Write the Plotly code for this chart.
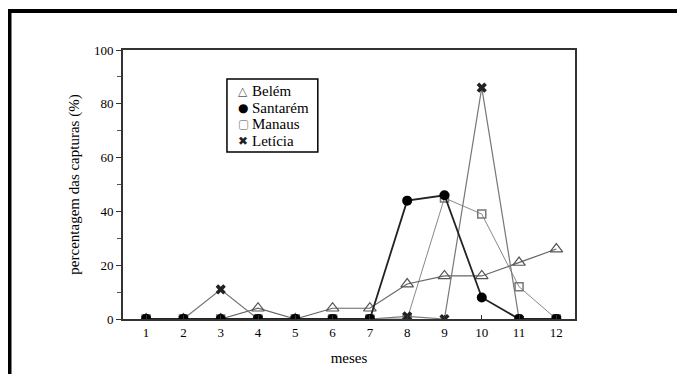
import plotly.graph_objects as go

meses = [1, 2, 3, 4, 5, 6, 7, 8, 9, 10, 11, 12]
belem = [0, 0, 0, 4, 0, 4, 4, 13, 16, 16, 21, 26]
santarem = [0, 0, 0, 0, 0, 0, 0, 44, 46, 8, 0, 0]
manaus = [0, 0, 0, 0, 0, 0, 0, 0, 45, 39, 12, 0]
leticia = [0, 0, 11, 0, 0, 0, 0, 1, 0, 86, 0, 0]
y_ticks = [0, 20, 40, 60, 80, 100]
legend_names = ["Belém", "Santarém", "Manaus", "Letícia"]
legend_glyphs = ["△", "●", "▢", "✖"]
legend_glyph_colors = ["#555555", "#000000", "#888888", "#222222"]

FONT = "Liberation Serif"

fig = go.Figure()
fig.add_trace(go.Scatter(x=meses, y=manaus, name="Manaus", mode="lines+markers",
                         line=dict(color="#888888", width=1),
                         marker=dict(symbol="square-open", size=8, color="#777777",
                                     line=dict(width=1.5))))
fig.add_trace(go.Scatter(x=meses, y=belem, name="Belém", mode="lines+markers",
                         line=dict(color="#666666", width=1.2),
                         marker=dict(symbol="triangle-up-open", size=11, color="#555555",
                                     line=dict(width=1.2))))
fig.add_trace(go.Scatter(x=meses, y=leticia, name="Letícia", mode="lines+markers",
                         line=dict(color="#777777", width=1.2),
                         marker=dict(symbol="x", size=9, color="#222222")))
fig.add_trace(go.Scatter(x=meses, y=santarem, name="Santarém", mode="lines+markers",
                         line=dict(color="#222222", width=1.8),
                         marker=dict(symbol="circle", size=10, color="#000000")))

# compact legend box like the original
row_y = [0.8476, 0.7862, 0.7249, 0.6617]
annotations = []
for name, glyph, gcol, yy in zip(legend_names, legend_glyphs, legend_glyph_colors, row_y):
    annotations.append(dict(xref="paper", yref="paper", x=0.2655, y=yy, text=glyph,
                            showarrow=False, xanchor="center", yanchor="middle",
                            borderpad=0,
                            font=dict(family="DejaVu Sans", size=12, color=gcol)))
    annotations.append(dict(xref="paper", yref="paper", x=0.283, y=yy, text=name,
                            showarrow=False, xanchor="left", yanchor="middle",
                            borderpad=0,
                            font=dict(family=FONT, size=15, color="black")))

fig.update_layout(
    width=677, height=366,
    margin=dict(l=115, r=110, t=42, b=55),
    paper_bgcolor="white", plot_bgcolor="white",
    font=dict(family=FONT, size=13, color="black"),
    showlegend=False,
    annotations=annotations,
    xaxis=dict(range=[0.38, 12.5], tickvals=meses, ticktext=[str(m) for m in meses],
               showgrid=False, zeroline=False, showline=True, linecolor="#333333",
               linewidth=2, mirror=True, ticks="inside", ticklen=4, tickcolor="#333333",
               tickfont=dict(family=FONT, size=13), automargin=False,
               title=dict(text="meses", font=dict(family=FONT, size=15), standoff=14)),
    yaxis=dict(range=[0, 100], tickvals=y_ticks, showgrid=False, zeroline=False,
               showline=True, linecolor="#333333", linewidth=2, mirror=True,
               ticks="outside", ticklen=5, tickcolor="#333333",
               tickfont=dict(family=FONT, size=13),
               minor=dict(tickvals=[10, 30, 50, 70, 90], ticks="outside", ticklen=4,
                          tickcolor="#555555"),
               title=dict(text="percentagem das capturas (%)",
                          font=dict(family=FONT, size=15), standoff=11)),
    shapes=[
        dict(type="rect", xref="paper", yref="paper", x0=0.230, x1=0.431,
             y0=0.621, y1=0.892, line=dict(color="black", width=1.5),
             fillcolor="white", layer="above"),
        dict(type="line", xref="paper", yref="paper", x0=-0.256, x1=1.3,
             y0=1.145, y1=1.145, line=dict(color="black", width=4)),
        dict(type="line", xref="paper", yref="paper", x0=-0.2511, x1=-0.2511,
             y0=1.152, y1=-0.3, line=dict(color="black", width=4)),
    ],
)

fig.write_html("out.html")
